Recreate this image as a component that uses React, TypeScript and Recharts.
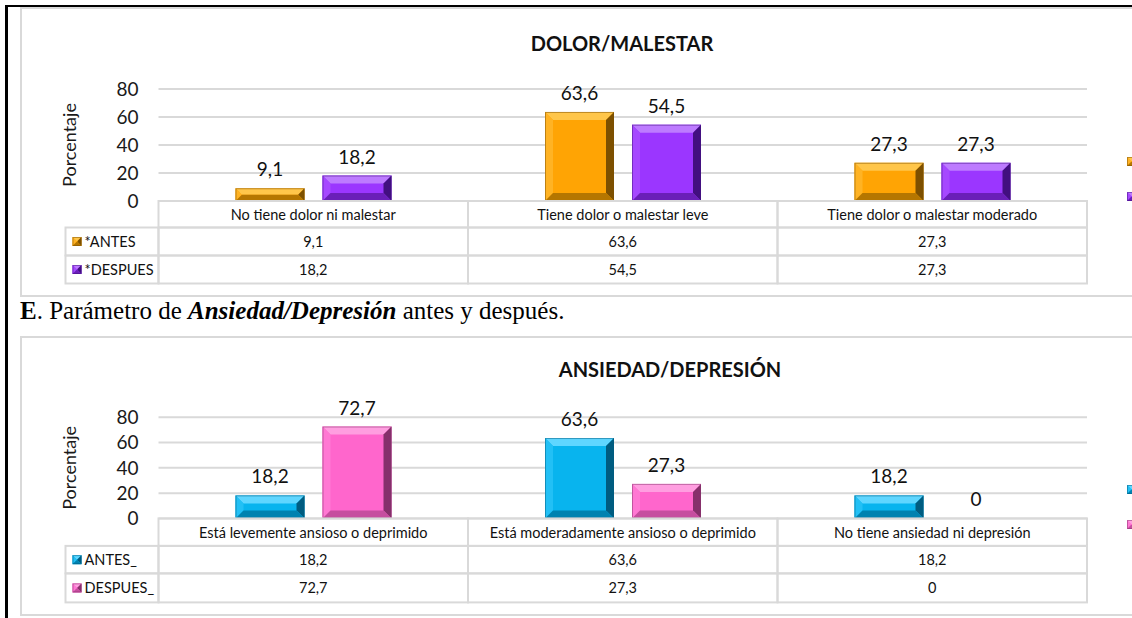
import React from "react";
import { BarChart, Bar, XAxis, YAxis, CartesianGrid, LabelList } from "recharts";

// DOLOR/MALESTAR
const categorias1 = ["No tiene dolor ni malestar", "Tiene dolor o malestar leve", "Tiene dolor o malestar moderado"];
const antes1 = [9.1, 63.6, 27.3];
const despues1 = [18.2, 54.5, 27.3];
const series1 = ["*ANTES", "*DESPUES"];

// ANSIEDAD/DEPRESIÓN
const categorias2 = ["Está levemente ansioso o deprimido", "Está moderadamente ansioso o deprimido", "No tiene ansiedad ni depresión"];
const antes2 = [18.2, 63.6, 18.2];
const despues2 = [72.7, 27.3, 0];
const series2 = ["ANTES_", "DESPUES_"];

const ticksY = [0, 20, 40, 60, 80];

type Pal = { front: string; top: string; left: string; right: string; bottom: string };

const NARANJA: Pal = { front: "#ffa404", top: "#ffc64a", left: "#ffb324", right: "#7d5000", bottom: "#b57600" };
const MORADO: Pal = { front: "#9b36ff", top: "#bd7bff", left: "#a648ff", right: "#420f80", bottom: "#6a1fb8" };
const CELESTE: Pal = { front: "#08b4ee", top: "#5fd6ff", left: "#22c0f5", right: "#005c80", bottom: "#0082b0" };
const ROSA: Pal = { front: "#ff66cc", top: "#ff9ee0", left: "#ff78d3", right: "#86306b", bottom: "#c64e9f" };

const GRIS = "#d9d9d9";
const fmt = (v: number) => String(v).replace(".", ",");

function Bisel({ x, y, w, h, b, pal }: { x: number; y: number; w: number; h: number; b: number; pal: Pal }) {
  const p = (pts: number[][]) => pts.map((q) => q.join(",")).join(" ");
  return (
    <g>
      <rect x={x} y={y} width={w} height={h} fill={pal.front} />
      <polygon points={p([[x, y], [x + w, y], [x + w - b, y + b], [x + b, y + b]])} fill={pal.top} />
      <polygon points={p([[x, y], [x + b, y + b], [x + b, y + h - b], [x, y + h]])} fill={pal.left} />
      <polygon points={p([[x + w, y], [x + w, y + h], [x + w - b, y + h - b], [x + w - b, y + b]])} fill={pal.right} />
      <polygon points={p([[x, y + h], [x + b, y + h - b], [x + w - b, y + h - b], [x + w, y + h]])} fill={pal.bottom} />
      <rect x={x + 0.5} y={y + 0.5} width={w - 1} height={h - 1} fill="none" stroke={pal.right} strokeOpacity={0.5} />
    </g>
  );
}

const barraBisel = (pal: Pal) => (props: any) => {
  const { x, y, width, height } = props;
  if (!height || height <= 0) return <g />;
  const b = Math.min(8, height / 2, width / 2);
  return <Bisel x={x} y={y} w={width} h={height} b={b} pal={pal} />;
};

type Cfg = {
  categorias: string[];
  antes: number[];
  despues: number[];
  series: string[];
  pals: Pal[];
  titulo: string;
  top: number;
  height: number;
  marginTop: number;
  marginBottom: number;
  filas: number[];
  tituloX: number;
  tituloY: number;
};

const PLOT_LEFT = 158.5;
const PLOT_RIGHT = 1087;
const LEYENDA_W = 93;

function Grafico({ cfg }: { cfg: Cfg }) {
  const data = cfg.categorias.map((c, i) => ({ cat: c, antes: cfg.antes[i], despues: cfg.despues[i] }));
  const band = (PLOT_RIGHT - PLOT_LEFT) / data.length;
  const tablaH = cfg.filas[0] + cfg.filas[1] + cfg.filas[2];

  const Tick = (props: any) => {
    const { x, y, payload, index } = props;
    const left = x - band / 2;
    const f0 = cfg.filas[0];
    const f1 = cfg.filas[1];
    const f2 = cfg.filas[2];
    const rows = [
      { y0: y, h: f0, t: payload.value },
      { y0: y + f0, h: f1, t: fmt(cfg.antes[index]) },
      { y0: y + f0 + f1, h: f2, t: fmt(cfg.despues[index]) },
    ];
    return (
      <g>
        {rows.map((r, k) => (
          <g key={k}>
            <rect x={left} y={r.y0} width={band} height={r.h} fill="none" stroke={GRIS} strokeWidth={2} />
            <text x={x} y={r.y0 + r.h / 2} textAnchor="middle" dominantBaseline="central" fontSize={14.5} fill="#111">
              {r.t}
            </text>
          </g>
        ))}
        {index === 0 &&
          [1, 2].map((k) => (
            <g key={"l" + k}>
              <rect x={left - LEYENDA_W} y={rows[k].y0} width={LEYENDA_W} height={rows[k].h} fill="none" stroke={GRIS} strokeWidth={2} />
              <Bisel x={left - LEYENDA_W + 7} y={rows[k].y0 + rows[k].h / 2 - 4.5} w={9} h={9} b={4} pal={cfg.pals[k - 1]} />
              <text x={left - LEYENDA_W + 19} y={rows[k].y0 + rows[k].h / 2} dominantBaseline="central" fontSize={14.5} fill="#111">
                {cfg.series[k - 1]}
              </text>
            </g>
          ))}
      </g>
    );
  };

  return (
    <div style={{ position: "absolute", left: 0, top: cfg.top, width: 1132, height: cfg.height }}>
      <div
        style={{
          position: "absolute",
          left: cfg.tituloX - 400,
          width: 800,
          top: cfg.tituloY - cfg.top - 12,
          textAlign: "center",
          fontWeight: 700,
          fontSize: 20,
          lineHeight: "24px",
          color: "#111",
        }}
      >
        {cfg.titulo}
      </div>
      <BarChart
        width={1132}
        height={cfg.height}
        data={data}
        margin={{ top: cfg.marginTop, right: 1132 - PLOT_RIGHT, bottom: cfg.marginBottom, left: PLOT_LEFT - 100 }}
        barSize={69}
        barGap={18}
      >
        <CartesianGrid vertical={false} stroke={GRIS} strokeWidth={2} />
        <XAxis
          dataKey="cat"
          height={tablaH}
          axisLine={false}
          tickLine={false}
          tickSize={0}
          tickMargin={0}
          interval={0}
          tick={<Tick />}
        />
        <YAxis
          width={100}
          domain={[0, 80]}
          ticks={ticksY}
          interval={0}
          axisLine={false}
          tickLine={false}
          tickMargin={14}
          tick={{ fontSize: 19, fill: "#1a1a1a" }}
          label={{ value: "Porcentaje", angle: -90, position: "insideLeft", offset: 11, style: { fontSize: 18, fill: "#1a1a1a", textAnchor: "middle" } }}
        />
        <Bar dataKey="antes" isAnimationActive={false} shape={barraBisel(cfg.pals[0])}>
          <LabelList dataKey="antes" position="top" offset={12} formatter={(v: any) => fmt(Number(v))} style={{ fontSize: 19, fill: "#111" }} />
        </Bar>
        <Bar dataKey="despues" isAnimationActive={false} shape={barraBisel(cfg.pals[1])}>
          <LabelList dataKey="despues" position="top" offset={12} formatter={(v: any) => fmt(Number(v))} style={{ fontSize: 19, fill: "#111" }} />
        </Bar>
      </BarChart>
      {[0, 1].map((k) => (
        <svg key={k} style={{ position: "absolute", left: 1127, top: cfg.marginTop + (k === 0 ? 68 : 103), overflow: "visible" }} width={9} height={9}>
          <Bisel x={0} y={0} w={9} h={9} b={4} pal={cfg.pals[k]} />
        </svg>
      ))}
    </div>
  );
}

const cfg1: Cfg = {
  categorias: categorias1,
  antes: antes1,
  despues: despues1,
  series: series1,
  pals: [NARANJA, MORADO],
  titulo: "DOLOR/MALESTAR",
  top: 0,
  height: 300,
  marginTop: 89,
  marginBottom: 16.5,
  filas: [26.5, 28, 28],
  tituloX: 622,
  tituloY: 43,
};

const cfg2: Cfg = {
  categorias: categorias2,
  antes: antes2,
  despues: despues2,
  series: series2,
  pals: [CELESTE, ROSA],
  titulo: "ANSIEDAD/DEPRESIÓN",
  top: 330,
  height: 288,
  marginTop: 87.3,
  marginBottom: 15.6,
  filas: [27.5, 27.5, 29],
  tituloX: 670,
  tituloY: 369,
};

export default function App() {
  return (
    <div
      style={{
        position: "absolute",
        left: 0,
        top: 0,
        width: 1132,
        height: 618,
        overflow: "hidden",
        background: "#fff",
        fontFamily: "Lato, 'Open Sans', sans-serif",
      }}
    >
      <div style={{ position: "absolute", left: 5, top: 5, width: 1127, height: 2, background: "#000" }} />
      <div style={{ position: "absolute", left: 5, top: 5, width: 2.5, height: 613, background: "#000" }} />
      <div style={{ position: "absolute", left: 20, top: 7, width: 1130, height: 290, border: `2px solid ${GRIS}`, boxSizing: "border-box" }} />
      <div style={{ position: "absolute", left: 20, top: 336, width: 1130, height: 280, border: `2px solid ${GRIS}`, boxSizing: "border-box" }} />
      <div
        style={{
          position: "absolute",
          left: 20,
          top: 297,
          fontFamily: "'Liberation Serif', 'DejaVu Serif', serif",
          fontSize: 25,
          lineHeight: "28px",
          color: "#000",
          whiteSpace: "nowrap",
        }}
      >
        <b>E</b>. Parámetro de <b><i>Ansiedad/Depresión</i></b> antes y después.
      </div>
      <Grafico cfg={cfg1} />
      <Grafico cfg={cfg2} />
    </div>
  );
}
